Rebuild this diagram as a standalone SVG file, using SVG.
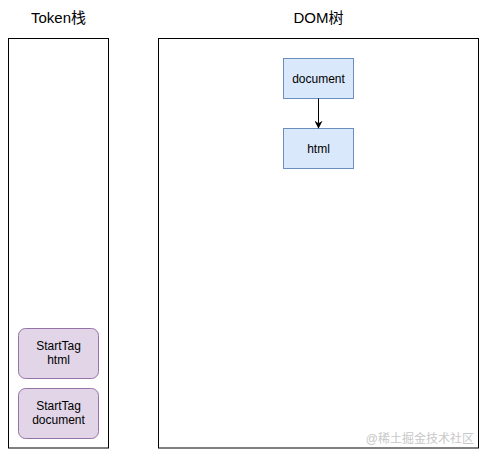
<svg xmlns="http://www.w3.org/2000/svg" width="487" height="457" viewBox="0 0 487 457">
<style>
text{font-family:"Liberation Sans",Arial,"Noto Sans CJK SC",sans-serif;fill:#000;text-anchor:middle}
.title{font-size:15px}
.lbl{font-size:12px}
.frame{fill:#fff;stroke:#000;stroke-width:1}
.dom{fill:#dae8fc;stroke:#6c8ebf;stroke-width:1}
.tok{fill:#e1d5e7;stroke:#9673a6;stroke-width:1}
.wm{font-size:12px;fill:#c8c8c8;text-anchor:end}
</style>
<defs>
<marker id="arr" viewBox="0 0 10 10" refX="9" refY="5" markerWidth="8" markerHeight="8" orient="auto" markerUnits="userSpaceOnUse">
<path d="M0,0 L10,5 L0,10 L3,5 Z" fill="#000"/>
</marker>
</defs>
<rect width="487" height="457" fill="#fff"/>
<g id="token-stack">
<text class="title" x="58.5" y="23">Token栈</text>
<rect class="frame" x="8.5" y="38.5" width="100" height="409.5"/>
</g>
<g id="dom-tree">
<text class="title" x="318.5" y="23">DOM树</text>
<rect class="frame" x="158.5" y="38.5" width="320" height="409.5"/>
</g>
<g id="node-document">
<rect class="dom" x="283.5" y="58.5" width="70" height="40"/>
<text class="lbl" x="318.5" y="82.5">document</text>
</g>
<g id="node-html">
<rect class="dom" x="283.5" y="128.5" width="70" height="40"/>
<text class="lbl" x="318.5" y="152.5">html</text>
</g>
<g id="tok-html">
<rect class="tok" x="18.5" y="328.5" width="80" height="50" rx="7"/>
<text class="lbl" x="58.5" y="350">StartTag</text>
<text class="lbl" x="58.5" y="364">html</text>
</g>
<g id="tok-document">
<rect class="tok" x="18.5" y="388.5" width="80" height="50" rx="7"/>
<text class="lbl" x="58.5" y="410">StartTag</text>
<text class="lbl" x="58.5" y="424">document</text>
</g>
<g id="connectors">
<line x1="318.5" y1="98.5" x2="318.5" y2="128" stroke="#000" stroke-width="1" marker-end="url(#arr)"/>
</g>
<text class="wm" x="474" y="443">@稀土掘金技术社区</text>
</svg>
